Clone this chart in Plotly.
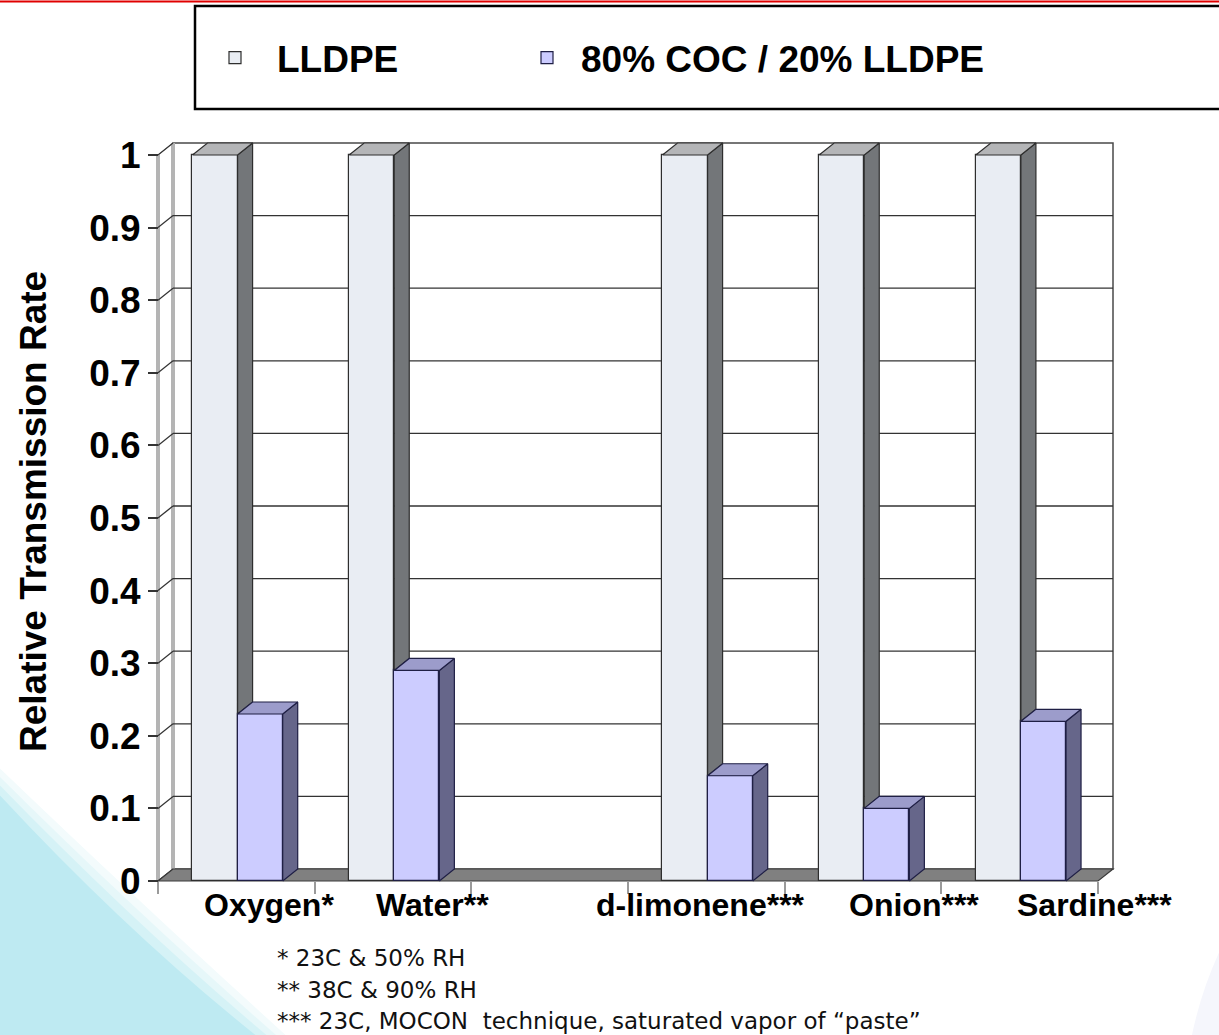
import plotly.graph_objects as go

# ---- data -------------------------------------------------------------
categories = ["Oxygen*", "Water**", "", "d-limonene***", "Onion***", "Sardine***"]
lldpe = [1.0, 1.0, None, 1.0, 1.0, 1.0]
coc_blend = [0.23, 0.29, None, 0.145, 0.10, 0.22]
series_names = ["LLDPE", "80% COC / 20% LLDPE"]
y_tick_values = [0, 0.1, 0.2, 0.3, 0.4, 0.5, 0.6, 0.7, 0.8, 0.9, 1]
y_tick_labels = ["0", "0.1", "0.2", "0.3", "0.4", "0.5", "0.6", "0.7", "0.8", "0.9", "1"]
y_title = "Relative Transmission Rate"
footnotes = [
    "* 23C & 50% RH",
    "** 38C & 90% RH",
    "*** 23C, MOCON\u00a0 technique, saturated vapor of \u201cpaste\u201d",
]

# ---- page geometry (pixels) -------------------------------------------
W, H = 1219, 1035
PL, PR, PT, PB = 148, 1123, 133, 895          # plot area edges
X0_PX, Y0_PX = 158, 881                        # front-left corner of the floor
SX = 940 / 6                                   # px per category slot
SY = 726                                       # px per unit of value
DX, DY = 15 / SX, 12 / SY                      # 3-D depth offset in data units
BW = 0.288                                     # bar width in slot units

x_range = [-0.5 - (X0_PX - PL) / SX, -0.5 + (PR - X0_PX) / SX]
y_range = [-(PB - Y0_PX) / SY, (Y0_PX - PT) / SY]


def px_x(px):
    return (px - PL) / (PR - PL)


def px_y(py):
    return (PB - py) / (PB - PT)


FONT = "Liberation Sans, Arial, sans-serif"
n = len(categories)
xs = list(range(n))
x_lo, x_hi = -0.5, n - 0.5

shapes = []


def path_px(pts):
    s = "M {} {}".format(px_x(pts[0][0]), px_y(pts[0][1]))
    for p in pts[1:]:
        if len(p) == 4:
            s += " Q {} {} {} {}".format(px_x(p[0]), px_y(p[1]), px_x(p[2]), px_y(p[3]))
        else:
            s += " L {} {}".format(px_x(p[0]), px_y(p[1]))
    return s + " Z"


# slide background: cyan lower-left corner fading into white
for grow, colour in ((22, "#F3FBFC"), (15, "#E6F7F9"), (8, "#D5F2F6"), (0, "#BEEAF2")):
    shapes.append(dict(type="path", xref="paper", yref="paper", layer="below",
                       path=path_px([(-5, 790 - grow * 1.2),
                                     (131 + grow, 937 - grow, 268 + grow * 1.3, 1045),
                                     (-5, 1045)]),
                       fillcolor=colour, line=dict(width=0)))
# faint glow in the lower-right corner
shapes.append(dict(type="path", xref="paper", yref="paper", layer="below",
                   path=path_px([(1225, 940), (1200, 990, 1190, 1045), (1225, 1045)]),
                   fillcolor="#F5F6FC", line=dict(width=0)))

# back wall
shapes.append(dict(type="rect", xref="x", yref="y", layer="below",
                   x0=x_lo + DX, x1=x_hi + DX, y0=DY, y1=1 + DY,
                   fillcolor="white", line=dict(color="#4a4a4a", width=1.5)))
# left wall
shapes.append(dict(type="path", xref="x", yref="y", layer="below",
                   path="M {a} 0 L {a} 1 L {b} {t} L {b} {d} Z".format(
                       a=x_lo, b=x_lo + DX, t=1 + DY, d=DY),
                   fillcolor="white", line=dict(color="#9a9a9a", width=1)))
for xe, yb in ((x_lo, 0), (x_lo + DX, DY)):
    shapes.append(dict(type="line", xref="x", yref="y", layer="below",
                       x0=xe, x1=xe, y0=yb, y1=yb + 1,
                       line=dict(color="#b4b4b4", width=4)))
# gridlines on the back wall, joined to the ticks across the left wall
for v in y_tick_values:
    shapes.append(dict(type="line", xref="x", yref="y", layer="below",
                       x0=x_lo, y0=v, x1=x_lo + DX, y1=v + DY,
                       line=dict(color="#333333", width=1.3)))
    if 0 < v < 1:
        shapes.append(dict(type="line", xref="x", yref="y", layer="below",
                           x0=x_lo + DX, y0=v + DY, x1=x_hi + DX, y1=v + DY,
                           line=dict(color="#333333", width=1.3)))
# floor
shapes.append(dict(type="path", xref="x", yref="y", layer="below",
                   path="M {a} 0 L {b} 0 L {c} {d} L {e} {d} Z".format(
                       a=x_lo, b=x_hi, c=x_hi + DX, d=DY, e=x_lo + DX),
                   fillcolor="#808080", line=dict(color="#3a3a3a", width=1.2)))

# legend frame and slide rule
shapes.append(dict(type="rect", xref="paper", yref="paper", layer="above",
                   x0=px_x(195), x1=px_x(1240), y0=px_y(6), y1=px_y(109),
                   line=dict(color="black", width=2.5)))
shapes.append(dict(type="line", xref="paper", yref="paper", layer="above",
                   x0=px_x(-5), x1=px_x(1230), y0=px_y(1.5), y1=px_y(1.5),
                   line=dict(color="#E00000", width=2)))

fig = go.Figure()

# front faces of the bars
front = [("#E9EDF3", "#2e2e2e"), ("#CCCCFF", "#1f1f45")]
legend_ids = ["legend", "legend2"]
for k, (name, vals) in enumerate(zip(series_names, [lldpe, coc_blend])):
    fig.add_trace(go.Bar(
        x=xs, y=vals, name=name, width=BW, offset=-BW + 0.008 if k == 0 else 0.008,
        marker=dict(color=front[k][0], line=dict(color=front[k][1], width=1.2)),
        legend=legend_ids[k], hoverinfo="skip"))


def add_faces(polys, fill, edge):
    fx, fy = [], []
    for poly in polys:
        for (px_, py_) in poly + [poly[0]]:
            fx.append(px_)
            fy.append(py_)
        fx.append(None)
        fy.append(None)
    fig.add_trace(go.Scatter(x=fx, y=fy, mode="lines", fill="toself",
                             fillcolor=fill, line=dict(color=edge, width=1.2),
                             showlegend=False, hoverinfo="skip", cliponaxis=False))


# side and top faces of the bars
lld_side, lld_top, coc_side, coc_top = [], [], [], []
for i, (a, b) in enumerate(zip(lldpe, coc_blend)):
    c = i + 0.008
    if a is not None:
        xl, xr = c - BW, c
        base = b if b is not None else 0
        lld_side.append([(xr, base), (xr, a), (xr + DX, a + DY), (xr + DX, base + DY)])
        lld_top.append([(xl, a), (xr, a), (xr + DX, a + DY), (xl + DX, a + DY)])
    if b is not None:
        xl, xr = c, c + BW
        coc_side.append([(xr, 0), (xr, b), (xr + DX, b + DY), (xr + DX, DY)])
        coc_top.append([(xl, b), (xr, b), (xr + DX, b + DY), (xl + DX, b + DY)])

add_faces(lld_side, "#737679", "#2e2e2e")
add_faces(lld_top, "#B4B5B7", "#2e2e2e")
add_faces(coc_side, "#66668A", "#1f1f45")
add_faces(coc_top, "#9C9CCB", "#1f1f45")

annotations = []
# category labels below the floor
label_nudge = [33, 39, 0, -6, 51, 75]
for i, lab in enumerate(categories):
    if lab:
        annotations.append(dict(x=i, y=0, xref="x", yref="y", text=lab, showarrow=False,
                                xanchor="center", yanchor="middle", xshift=label_nudge[i],
                                yshift=-24,
                                font=dict(family=FONT, size=32, weight="bold", color="black")))
# axis title
annotations.append(dict(x=px_x(33), y=px_y(512), xref="paper", yref="paper", text=y_title,
                        textangle=-90, showarrow=False, xanchor="center", yanchor="middle",
                        font=dict(family=FONT, size=37, weight="bold", color="black")))
# footnotes
for j, note in enumerate(footnotes):
    annotations.append(dict(x=px_x(275), y=px_y(958 + 31.5 * j), xref="paper", yref="paper",
                            text=note, showarrow=False, xanchor="left", yanchor="middle",
                            font=dict(family="DejaVu Sans, sans-serif", size=23, color="#111111")))

legend_style = dict(orientation="h", yanchor="middle", y=px_y(58), xanchor="left",
                    font=dict(family=FONT, size=37, weight="bold", color="black"),
                    bgcolor="rgba(0,0,0,0)", borderwidth=0,
                    itemclick=False, itemdoubleclick=False)

fig.update_layout(
    width=W, height=H, autosize=False,
    margin=dict(l=PL, r=W - PR, t=PT, b=H - PB, pad=0),
    paper_bgcolor="white", plot_bgcolor="rgba(0,0,0,0)",
    barmode="overlay", bargap=0,
    shapes=shapes, annotations=annotations,
    showlegend=True,
    legend=dict(legend_style, x=px_x(193), itemwidth=74),
    legend2=dict(legend_style, x=px_x(513), itemwidth=58),
    xaxis=dict(range=x_range, anchor="free", position=px_y(Y0_PX),
               showgrid=False, zeroline=False, showline=False,
               tickmode="array", tickvals=[x_lo + k for k in range(n + 1)],
               ticks="outside", ticklen=12, tickwidth=2, tickcolor="#9a9a9a",
               showticklabels=False),
    yaxis=dict(range=y_range, anchor="free", position=px_x(X0_PX),
               showgrid=False, zeroline=False, showline=False,
               tickmode="array", tickvals=y_tick_values, ticktext=y_tick_labels,
               ticks="outside", ticklen=10, tickwidth=1.5, tickcolor="#333333",
               tickfont=dict(family=FONT, size=37, weight="bold", color="black")),
)

fig.write_html("out.html")
